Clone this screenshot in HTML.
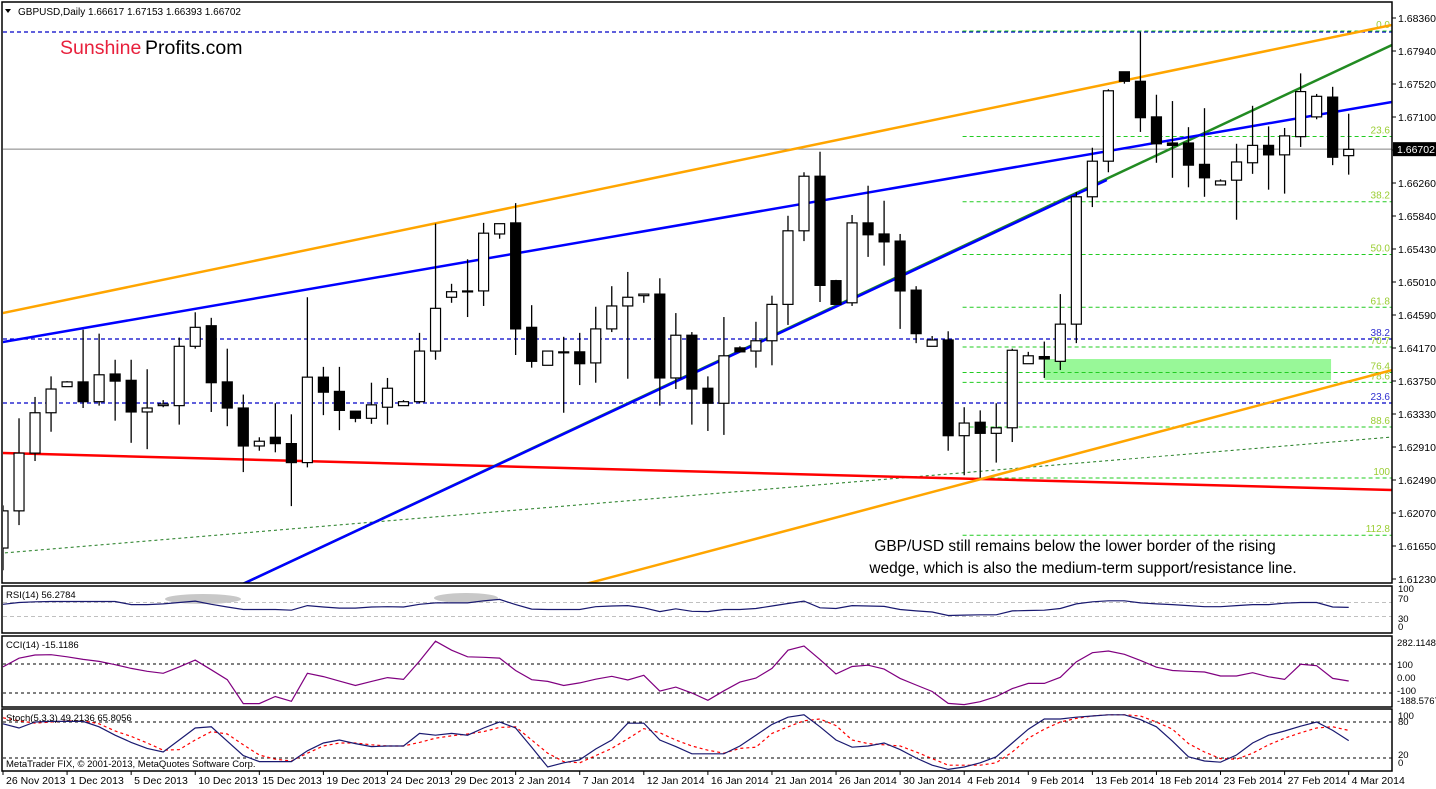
<!DOCTYPE html>
<html><head><meta charset="utf-8"><style>
html,body{margin:0;padding:0;background:#fff;}
svg{display:block;font-family:"Liberation Sans",sans-serif;}
</style></head><body>
<svg id="chart" width="1436" height="789" xmlns="http://www.w3.org/2000/svg">
<rect x="0" y="0" width="1436" height="789" fill="#fff"/>
<g id="main"></g>
<g id="ind"></g>
<g id="axes"></g>
</svg>
<script>
// ---- data ----
const dates = ["26 Nov 2013","1 Dec 2013","5 Dec 2013","10 Dec 2013","15 Dec 2013","19 Dec 2013","24 Dec 2013","29 Dec 2013","2 Jan 2014","7 Jan 2014","12 Jan 2014","16 Jan 2014","21 Jan 2014","26 Jan 2014","30 Jan 2014","4 Feb 2014","9 Feb 2014","13 Feb 2014","18 Feb 2014","23 Feb 2014","27 Feb 2014","4 Mar 2014"];
const openP  = [1.6166,1.6213,1.6286,1.6337,1.6370,1.6376,1.6351,1.6386,1.6378,1.6338,1.6346,1.6346,1.6421,1.6447,1.6376,1.6343,1.6295,1.6306,1.6298,1.6274,1.6382,1.6364,1.6339,1.6330,1.6344,1.6346,1.6351,1.6415,1.6483,1.6491,1.6491,1.6563,1.6577,1.6445,1.6397,1.6414,1.6414,1.6400,1.6443,1.6472,1.6485,1.6487,1.6381,1.6435,1.6368,1.6349,1.6419,1.6415,1.6428,1.6474,1.6567,1.6636,1.6504,1.6476,1.6577,1.6563,1.6554,1.6492,1.6421,1.6429,1.6308,1.6325,1.6311,1.6318,1.6399,1.6408,1.6402,1.6449,1.6610,1.6655,1.6768,1.6756,1.6711,1.6678,1.6678,1.6651,1.6625,1.6631,1.6653,1.6675,1.6663,1.6686,1.6711,1.6736,1.6662];
const highP  = [1.6220,1.6330,1.6357,1.6383,1.6377,1.6442,1.6437,1.6404,1.6404,1.6392,1.6353,1.6432,1.6464,1.6457,1.6418,1.6360,1.6306,1.6349,1.6335,1.6483,1.6395,1.6395,1.6339,1.6375,1.6381,1.6353,1.6438,1.6576,1.6500,1.6531,1.6577,1.6576,1.6602,1.6473,1.6415,1.6433,1.6438,1.6471,1.6497,1.6515,1.6487,1.6507,1.6463,1.6439,1.6383,1.6458,1.6421,1.6452,1.6485,1.6586,1.6641,1.6667,1.6505,1.6587,1.6624,1.6605,1.6563,1.6497,1.6434,1.6440,1.6344,1.6340,1.6349,1.6418,1.6414,1.6427,1.6487,1.6616,1.6672,1.6746,1.6768,1.6818,1.6739,1.6731,1.6698,1.6722,1.6632,1.6677,1.6725,1.6699,1.6697,1.6766,1.6740,1.6749,1.6715];
const lowP   = [1.6138,1.6195,1.6276,1.6313,1.6370,1.6343,1.6346,1.6327,1.6299,1.6291,1.6344,1.6322,1.6418,1.6338,1.6320,1.6262,1.6289,1.6287,1.6219,1.6268,1.6334,1.6315,1.6325,1.6323,1.6322,1.6346,1.6349,1.6404,1.6476,1.6458,1.6472,1.6557,1.6410,1.6394,1.6397,1.6337,1.6372,1.6375,1.6439,1.6380,1.6476,1.6346,1.6367,1.6322,1.6314,1.6309,1.6414,1.6394,1.6397,1.6448,1.6554,1.6477,1.6474,1.6472,1.6534,1.6523,1.6443,1.6425,1.6421,1.6289,1.6258,1.6255,1.6274,1.6300,1.6399,1.6381,1.6391,1.6425,1.6597,1.6641,1.6753,1.6692,1.6653,1.6634,1.6622,1.6610,1.6625,1.6581,1.6639,1.6619,1.6614,1.6673,1.6708,1.6650,1.6638];
const closeP = [1.6213,1.6286,1.6337,1.6367,1.6376,1.6351,1.6385,1.6377,1.6338,1.6343,1.6348,1.6421,1.6445,1.6375,1.6343,1.6295,1.6301,1.6298,1.6274,1.6382,1.6363,1.6340,1.6330,1.6347,1.6368,1.6351,1.6415,1.6469,1.6490,1.6491,1.6564,1.6576,1.6443,1.6402,1.6415,1.6414,1.6399,1.6443,1.6472,1.6483,1.6487,1.6381,1.6435,1.6367,1.6349,1.6409,1.6414,1.6428,1.6474,1.6567,1.6636,1.6498,1.6474,1.6577,1.6562,1.6553,1.6491,1.6437,1.6429,1.6308,1.6324,1.6311,1.6318,1.6416,1.6409,1.6405,1.6449,1.6610,1.6655,1.6744,1.6756,1.6710,1.6677,1.6675,1.6650,1.6634,1.6630,1.6654,1.6675,1.6663,1.6687,1.6743,1.6737,1.6660,1.6670];
const rsiVals = [65,70,72,73,73,73,73,73,64,64,66,70,74,65,57,50,50,50,48,61,57,54,54,57,58,57,65,69,69,69,75,79,64,51,50,50,50,58,60,61,55,44,52,45,44,50,50,53,60,67,74,55,53,61,60,59,50,46,43,33,34,35,35,46,47,48,53,66,72,75,75,69,66,64,61,58,58,61,64,64,68,70,70,57,56];
const cciVals = [80,140,162,164,150,132,118,95,70,50,36,80,127,60,-8,-173,-173,-124,-157,36,13,-18,-48,-20,6,-6,120,257,195,150,146,141,55,-8,-20,-48,-30,-5,15,-10,22,-87,-59,-100,-150,-85,-25,3,70,195,224,130,32,83,92,65,1,-45,-90,-172,-180,-160,-125,-70,-34,-34,8,115,178,190,167,125,78,55,50,45,17,17,40,12,-6,98,88,1,-17];
const stochK = [77,70,80,81,81,81,72,58,46,36,30,50,70,72,48,24,14,14,14,32,45,50,44,39,40,40,61,58,61,58,70,80,70,38,5,12,17,35,50,78,78,50,39,27,27,27,40,58,76,88,92,72,50,38,40,45,34,20,8,1,5,12,22,45,68,85,85,88,90,92,92,84,72,48,22,15,13,25,45,58,65,73,80,66,49];
const stochD = [87,82,78,80,82,82,77,65,56,45,33,34,50,64,60,42,25,18,15,28,40,45,45,42,40,40,46,53,57,60,64,71,72,50,28,14,12,24,36,52,69,62,50,40,33,28,36,38,61,72,82,85,74,50,44,42,40,30,19,8,8,8,12,30,53,68,80,86,90,92,92,90,80,68,44,30,19,18,28,42,53,62,70,72,66];
const priceTicks = ["1.68360","1.67940","1.67520","1.67100","1.66680","1.66260","1.65840","1.65430","1.65010","1.64590","1.64170","1.63750","1.63330","1.62910","1.62490","1.62070","1.61650","1.61230"];
// trendlines: [barIndex1, price1, barIndex2, price2]
const orangeUpper = [0,1.64631,86.7,1.68272];
const blueUpper = [0,1.64264,86.7,1.67298];
const blueLower = [15.1,1.61218,68.9,1.66312];
const greenLine = [15.1,1.61218,86.7,1.68019];
const orangeLower = [36.6,1.61218,86.7,1.63910];
const redLine = [0,1.62861,86.7,1.62394];
const thinGreen = [0,1.61597,86.7,1.63064];
const blueLevels = [1.68183,1.64302,1.63493];
const blueLevelLabels = ["","38.2","23.6"];
const fibHigh = 1.68196, fibLow = 1.62545;
const fibRatios = [0,23.6,38.2,50.0,61.8,70.7,76.4,78.6,88.6,100,112.8];
const fibLabels = ["0.0","23.6","38.2","50.0","61.8","70.7","76.4","78.6","88.6","100","112.8"];
const zone = [65.0,1.64049,82.9,1.63784];
const lastPrice = 1.66702;

// ---- scales ----
const NS="http://www.w3.org/2000/svg";
const PL=3, PR=1392, PT=3, PB=583;
const xOf = i => 3 + 16.02*i;
const yOf = p => 18 + (1.6836 - p)*7911;
const yRsi = v => 627 - v*0.35;
const yCci = v => 678.5 - v*0.145;
const ySto = v => 770 - v*0.6;
function mk(tag, attrs, parent){const e=document.createElementNS(NS,tag);for(const k in attrs)e.setAttribute(k,attrs[k]);parent.appendChild(e);return e;}
const main=document.getElementById('main'), ind=document.getElementById('ind'), axes=document.getElementById('axes');

// clip
const defs=mk('defs',{},main);
const cp=mk('clipPath',{id:'pc'},defs); mk('rect',{x:PL,y:PT,width:PR-PL,height:PB-PT},cp);
const g=mk('g',{'clip-path':'url(#pc)'},main);

// zone
let z=mk('rect',{x:xOf(zone[0]),y:yOf(zone[1]),width:xOf(zone[2])-xOf(zone[0]),height:yOf(zone[3])-yOf(zone[1]),fill:'#98f898'},g);



// blue levels
blueLevels.forEach((p,k)=>{
  let l=mk('line',{x1:PL,x2:PR,y1:yOf(p),y2:yOf(p),stroke:'#0000c8','stroke-width':1.2,'stroke-dasharray':'4,3'},g);
  
  
  if(blueLevelLabels[k]){let t=mk('text',{x:1390,y:yOf(p)-3,'text-anchor':'end','font-size':10,fill:'#3030d0'},g);t.textContent=blueLevelLabels[k];
  
  }
});
// fib green
fibRatios.forEach((r,k)=>{
  const p=fibHigh-(fibHigh-fibLow)*r/100;
  let l=mk('line',{x1:xOf(59.9),x2:PR,y1:yOf(p),y2:yOf(p),stroke:'#22cc22','stroke-width':1,'stroke-dasharray':'4,3'},g);
  
  
  let t=mk('text',{x:1390,y:yOf(p)-3,'text-anchor':'end','font-size':10,fill:'#9acd32'},g);t.textContent=fibLabels[k];
  
  
});
// current price line
let cl=mk('line',{x1:PL,x2:PR,y1:yOf(lastPrice),y2:yOf(lastPrice),stroke:'#808080','stroke-width':1},g);



function tl(a,color,w,dash,name){
  const s=(a[3]-a[1])/(a[2]-a[0]);
  const i1=-1, i2=90;
  let l=mk('line',{x1:xOf(i1),y1:yOf(a[1]+s*(i1-a[0])),x2:xOf(Math.min(i2,a[2])),y2:yOf(a[1]+s*(Math.min(i2,a[2])-a[0])),stroke:color,'stroke-width':w},g);
  if(a[0]>0){l.setAttribute('x1',xOf(a[0]-1));l.setAttribute('y1',yOf(a[1]-s));}
  if(dash)l.setAttribute('stroke-dasharray',dash);
  
  
}
tl(thinGreen,'#1e7a1e',1,'3,3','support-dotted-line');
tl(redLine,'#ff0000',2.5,null,'red-trendline');
tl(orangeUpper,'#ffa500',2.5,null,'orange-upper-channel');
tl(orangeLower,'#ffa500',2.5,null,'orange-lower-channel');
tl(greenLine,'#228b22',2.5,null,'green-wedge-line');
tl(blueLower,'#0000ff',2.5,null,'blue-lower-trendline');
tl(blueUpper,'#0000ff',2.5,null,'blue-upper-trendline');

// candles
for(let i=0;i<openP.length;i++){
  const x=xOf(i), o=openP[i], c=closeP[i];
  let w=mk('line',{x1:x,x2:x,y1:yOf(highP[i]),y2:yOf(lowP[i]),stroke:'#000','stroke-width':1.3},g);
  
  
  const top=yOf(Math.max(o,c)), bot=yOf(Math.min(o,c));
  let b=mk('rect',{x:x-5,y:top,width:10,height:Math.max(1,bot-top),fill:c<o?'#000':'#fff',stroke:'#000','stroke-width':1.2},g);
  
  
}

// frames
[[2,2,1390,581],[2,586,1390,47],[2,636,1390,71],[2,709,1390,62]].forEach(r=>{
  let f=mk('rect',{x:r[0],y:r[1],width:r[2],height:r[3],fill:'none',stroke:'#000','stroke-width':1.5},axes);
  
  
});

// price axis
priceTicks.forEach((t,k)=>{
  const y=18+33*k;
  mk('line',{x1:1392,x2:1396,y1:y,y2:y,stroke:'#000'},axes);
  let tx=mk('text',{x:1398,y:y+4,'font-size':10.5,fill:'#000'},axes);tx.textContent=t;
  
  
});
let pb=mk('rect',{x:1393,y:yOf(lastPrice)-7,width:43,height:14,fill:'#000'},axes);


let pt=mk('text',{x:1397,y:yOf(lastPrice)+4,'font-size':10.5,fill:'#fff'},axes);pt.textContent=lastPrice.toFixed(5);



// titles
function txt(x,y,s,size,fill,name,anchor){let t=mk('text',{x:x,y:y,'font-size':size,fill:fill},axes);if(anchor)t.setAttribute('text-anchor',anchor);t.textContent=s;
  
  return t;}
mk('polygon',{points:'5,9 11,9 8,13',fill:'#000'},axes);
txt(18,15,'GBPUSD,Daily  1.66617 1.67153 1.66393 1.66702',10,'#000','chart-title');
txt(60,54,'Sunshine',19.5,'#e8203c','watermark-sunshine');
txt(145,54,'Profits.com',19.5,'#000','watermark-profits');
txt(1075,551,'GBP/USD still remains below the lower border of the rising',15.5,'#000','annotation-line-1','middle');
txt(1083,573,'wedge, which is also the medium-term support/resistance line.',15.5,'#000','annotation-line-2','middle');

// RSI
[[70],[30]].forEach(v=>{mk('line',{x1:3,x2:1392,y1:yRsi(v[0]),y2:yRsi(v[0]),stroke:'#c0c0c0','stroke-dasharray':'4,3'},ind);});
let b1=mk('ellipse',{cx:203,cy:599,rx:38,ry:5,fill:'#c8c8c8'},ind);


let b2=mk('ellipse',{cx:466,cy:598,rx:32,ry:5,fill:'#c8c8c8'},ind);


function series(vals,yf,color,w,dash,name){
  let d=vals.map((v,i)=>(i?'L':'M')+xOf(i).toFixed(1)+','+yf(v).toFixed(1)).join(' ');
  let p=mk('path',{d:d,fill:'none',stroke:color,'stroke-width':w},ind);
  if(dash)p.setAttribute('stroke-dasharray',dash);
  
  
}
series(rsiVals,yRsi,'#191970',1.2,null,'rsi-line');
txt(6,598,'RSI(14) 56.2784',9.5,'#000','rsi-title');
[['100',592],['70',602],['30',622],['0',630]].forEach(a=>txt(1398,a[1],a[0],9.5,'#000','rsi-tick-label'));

// CCI
[100,-100].forEach(v=>{mk('line',{x1:3,x2:1392,y1:yCci(v),y2:yCci(v),stroke:'#000','stroke-dasharray':'3,3'},ind);});
series(cciVals,yCci,'#800080',1.2,null,'cci-line');
txt(6,648,'CCI(14) -15.1186',9.5,'#000','cci-title');
[['282.1148',646],['100',668],['0.00',681],['-100',694],['-188.5767',704]].forEach(a=>txt(1397,a[1],a[0],9.5,'#000','cci-tick-label'));

// Stoch
[80,20].forEach(v=>{mk('line',{x1:3,x2:1392,y1:ySto(v),y2:ySto(v),stroke:'#000','stroke-dasharray':'3,3'},ind);});
series(stochD,ySto,'#ff0000',1.2,'3,3','stoch-signal-line');
series(stochK,ySto,'#191970',1.2,null,'stoch-main-line');
txt(6,721,'Stoch(5,3,3) 49.2136 65.8056',9.5,'#000','stoch-title');
txt(6,767,'MetaTrader FIX, © 2001-2013, MetaQuotes Software Corp.',9.5,'#000','copyright');
[['100',719],['80',725],['20',758],['0',766]].forEach(a=>txt(1398,a[1],a[0],9.5,'#000','stoch-tick-label'));

// date axis
dates.forEach((d,k)=>{
  const x=xOf(4*k);
  mk('line',{x1:x,x2:x,y1:771,y2:775,stroke:'#000'},axes);
  txt(x+3,784,d,10.5,'#000','date-tick-label');
});
</script>
</body></html>
